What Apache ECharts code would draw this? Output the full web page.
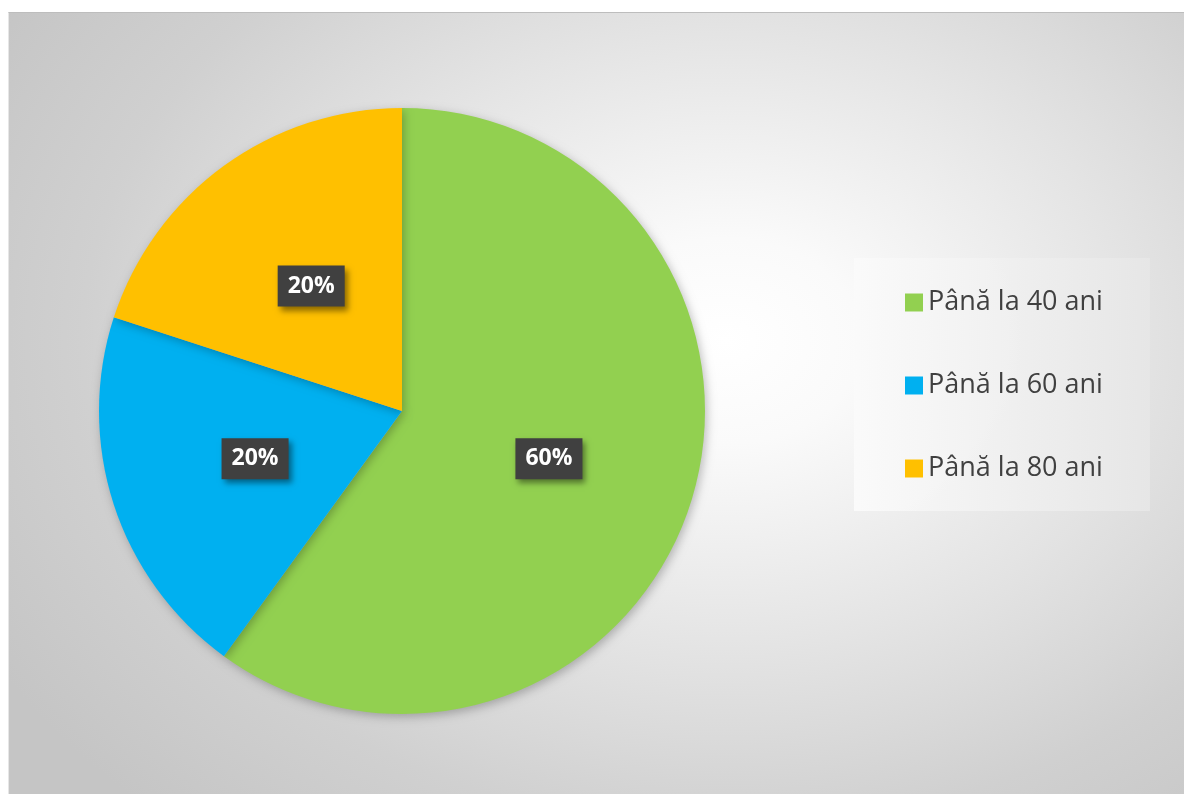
<!DOCTYPE html>
<html>
<head>
<meta charset="utf-8">
<script src="https://cdn.jsdelivr.net/npm/echarts@6/dist/echarts.min.js"></script>
<style>
  html, body { margin: 0; padding: 0; background: #ffffff; width: 1184px; height: 794px; overflow: hidden; }
  #chart {
    position: absolute; left: 8px; top: 12px; width: 1176px; height: 782px;
    box-sizing: border-box;
    border-top: 1px solid #bdbdbd; border-left: 1px solid #e6e6e6;
    background: radial-gradient(ellipse 72% 82% at 61% 42%, #ffffff 0%, #fafafa 16%, #e4e4e4 48%, #d0d0d0 76%, #c5c5c5 100%);
  }
</style>
</head>
<body>
<div id="chart"></div>
<script>
const categories = ['Până la 40 ani', 'Până la 60 ani', 'Până la 80 ani'];
const values = [60, 20, 20];
const colors = ['#92d050', '#00b0f0', '#ffc000'];

const chart = echarts.init(document.getElementById('chart'), null, { renderer: 'canvas' });

const fontFamily = '"Open Sans", "Noto Sans", sans-serif';

chart.setOption({
  animation: false,
  backgroundColor: 'transparent',
  color: colors,
  graphic: [{
    type: 'rect',
    left: 845, top: 245,
    shape: { width: 296, height: 253 },
    style: {
      fill: new echarts.graphic.LinearGradient(0, 0, 1, 0, [
        { offset: 0, color: 'rgba(250,250,250,0.95)' },
        { offset: 1, color: 'rgba(230,230,230,0.95)' }
      ])
    },
    z: 0
  }],
  legend: {
    orient: 'vertical',
    left: 891, top: 271,
    itemWidth: 18, itemHeight: 18,
    itemGap: 56,
    icon: 'rect',
    data: categories,
    textStyle: { fontFamily: fontFamily, fontSize: 27, lineHeight: 27, color: '#404040', padding: [0, 0, 0, 0] },
    z: 5
  },
  series: [{
    type: 'pie',
    center: [393, 398],
    radius: [0, 303],
    startAngle: 90,
    clockwise: true,
    data: categories.map((c, i) => ({ name: c, value: values[i] })),
    itemStyle: {
      borderWidth: 0,
      shadowBlur: 10,
      shadowColor: 'rgba(0,0,0,0.25)',
      shadowOffsetX: 2,
      shadowOffsetY: 3
    },
    label: {
      show: true,
      position: 'inside',
      formatter: p => Math.round(p.percent) + '%',
      color: '#ffffff',
      fontFamily: fontFamily,
      fontWeight: 'bold',
      fontSize: 23,
      lineHeight: 23,
      backgroundColor: '#404040',
      padding: [9, 10, 9, 10],
      shadowColor: 'rgba(0,0,0,0.45)',
      shadowBlur: 6,
      shadowOffsetX: 3,
      shadowOffsetY: 4
    },
    labelLine: { show: false },
    emphasis: { disabled: true }
  }]
});
</script>
</body>
</html>
